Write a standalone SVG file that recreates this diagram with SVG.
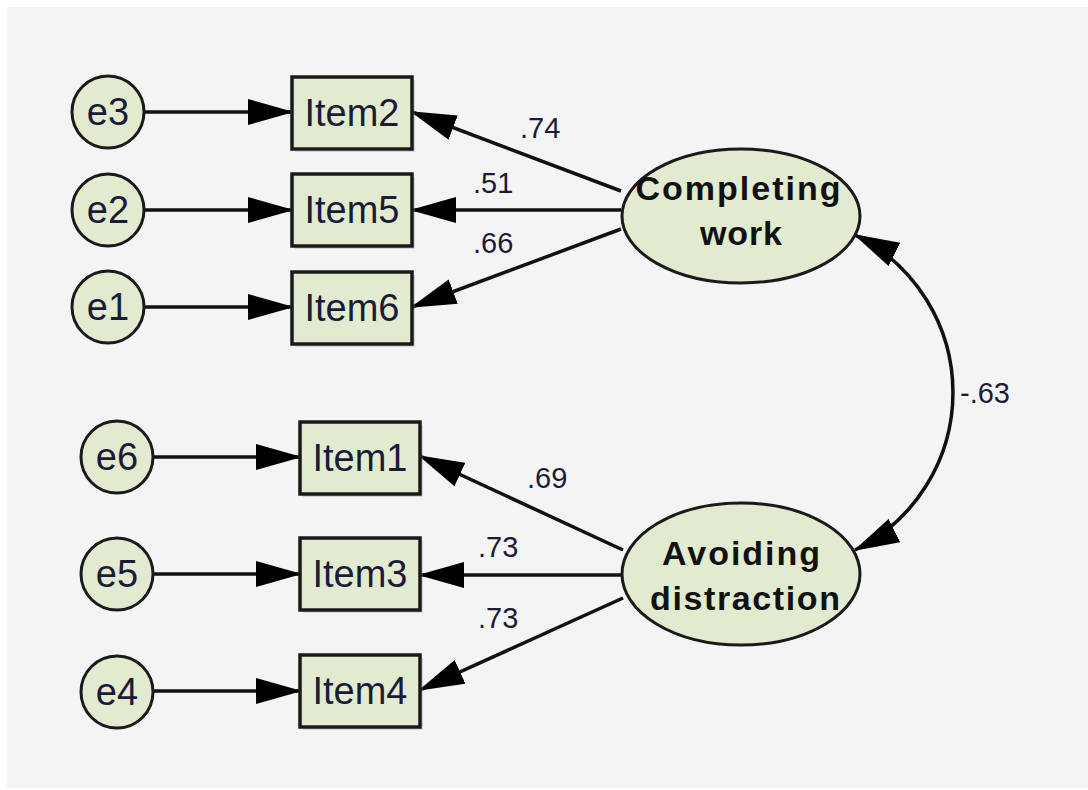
<svg xmlns="http://www.w3.org/2000/svg" width="1088" height="790" viewBox="0 0 1088 790">
<style>
.err{fill:#e2ebd0;stroke:#1a1a1a;stroke-width:3}
.box{fill:#e2ebd0;stroke:#1a1a1a;stroke-width:3.5}
.shadow{fill:#9a9a9a;opacity:0.35}
.lat{fill:#e2ebd0;stroke:#1a1a1a;stroke-width:3}
.t{font-family:"Liberation Sans",Arial,sans-serif;font-size:38px;fill:#1b1b38;text-anchor:middle}
.lt{font-family:"Liberation Sans",Arial,sans-serif;font-size:34px;font-weight:bold;fill:#111;text-anchor:middle}
.lab{font-family:"Liberation Sans",Arial,sans-serif;font-size:29px;fill:#1b1b38}
.c{fill:none;stroke:#111;stroke-width:3.5}
</style>
<defs>
<marker id="ah" markerUnits="userSpaceOnUse" markerWidth="46" markerHeight="26" viewBox="0 0 46 26" refX="44" refY="13" orient="auto-start-reverse">
<path d="M0,0 L46,13 L0,26 z" fill="#000"/>
</marker>
</defs>
<rect x="0" y="0" width="1088" height="790" fill="#ffffff"/>
<rect x="7" y="7" width="1081" height="781" fill="#f4f4f4"/>

<g id="connectors">
<path class="c" d="M145,112 L292,112" marker-end="url(#ah)"/>
<path class="c" d="M145,210 L292,210" marker-end="url(#ah)"/>
<path class="c" d="M145,307 L292,307" marker-end="url(#ah)"/>
<path class="c" d="M154,457 L300,457" marker-end="url(#ah)"/>
<path class="c" d="M154,574 L300,574" marker-end="url(#ah)"/>
<path class="c" d="M154,691 L300,691" marker-end="url(#ah)"/>
<path class="c" d="M621,191 L412,112" marker-end="url(#ah)"/>
<path class="c" d="M621,210 L412,210" marker-end="url(#ah)"/>
<path class="c" d="M621,229 L412,307" marker-end="url(#ah)"/>
<path class="c" d="M623,550 L420,456" marker-end="url(#ah)"/>
<path class="c" d="M621,575 L420,575" marker-end="url(#ah)"/>
<path class="c" d="M623,598 L420,690" marker-end="url(#ah)"/>
<path class="c" d="M855,235 A175.6,175.6 0 0 1 855,550" marker-start="url(#ah)" marker-end="url(#ah)"/>
<text class="lab" x="520" y="138">.74</text>
<text class="lab" x="473" y="193">.51</text>
<text class="lab" x="473" y="253">.66</text>
<text class="lab" x="527" y="488">.69</text>
<text class="lab" x="478" y="557">.73</text>
<text class="lab" x="478" y="628">.73</text>
<text class="lab" x="960" y="403">-.63</text>
</g>

<g id="e3"><circle class="err" cx="108" cy="112" r="36"/><text class="t" x="108" y="125">e3</text></g>
<g id="e2"><circle class="err" cx="108" cy="210" r="36"/><text class="t" x="108" y="223">e2</text></g>
<g id="e1"><circle class="err" cx="108" cy="307" r="36"/><text class="t" x="108" y="320">e1</text></g>
<g id="e6"><circle class="err" cx="117" cy="457" r="36"/><text class="t" x="117" y="470">e6</text></g>
<g id="e5"><circle class="err" cx="117" cy="574" r="36"/><text class="t" x="117" y="587">e5</text></g>
<g id="e4"><circle class="err" cx="117" cy="692" r="36"/><text class="t" x="117" y="705">e4</text></g>

<g id="Item2"><rect class="shadow" x="295" y="80" width="120" height="72"/><rect class="box" x="292" y="77" width="120" height="72"/><text class="t" x="352" y="126">Item2</text></g>
<g id="Item5"><rect class="shadow" x="295" y="177" width="120" height="72"/><rect class="box" x="292" y="174" width="120" height="72"/><text class="t" x="352" y="223">Item5</text></g>
<g id="Item6"><rect class="shadow" x="295" y="275" width="120" height="72"/><rect class="box" x="292" y="272" width="120" height="72"/><text class="t" x="352" y="321">Item6</text></g>
<g id="Item1"><rect class="shadow" x="303" y="425" width="120" height="72"/><rect class="box" x="300" y="422" width="120" height="72"/><text class="t" x="360" y="471">Item1</text></g>
<g id="Item3"><rect class="shadow" x="303" y="541" width="120" height="72"/><rect class="box" x="300" y="538" width="120" height="72"/><text class="t" x="360" y="587">Item3</text></g>
<g id="Item4"><rect class="shadow" x="303" y="658" width="120" height="72"/><rect class="box" x="300" y="655" width="120" height="72"/><text class="t" x="360" y="704">Item4</text></g>

<g id="CompletingWork"><ellipse class="lat" cx="741" cy="216" rx="119" ry="67"/>
<text class="lt" x="738" y="200" textLength="205" lengthAdjust="spacing">Completing</text>
<text class="lt" x="741" y="245" textLength="82" lengthAdjust="spacing">work</text></g>
<g id="AvoidingDistraction"><ellipse class="lat" cx="741" cy="574" rx="119" ry="71"/>
<text class="lt" x="741" y="565" textLength="158" lengthAdjust="spacing">Avoiding</text>
<text class="lt" x="745" y="610" textLength="190" lengthAdjust="spacing">distraction</text></g>
</svg>
